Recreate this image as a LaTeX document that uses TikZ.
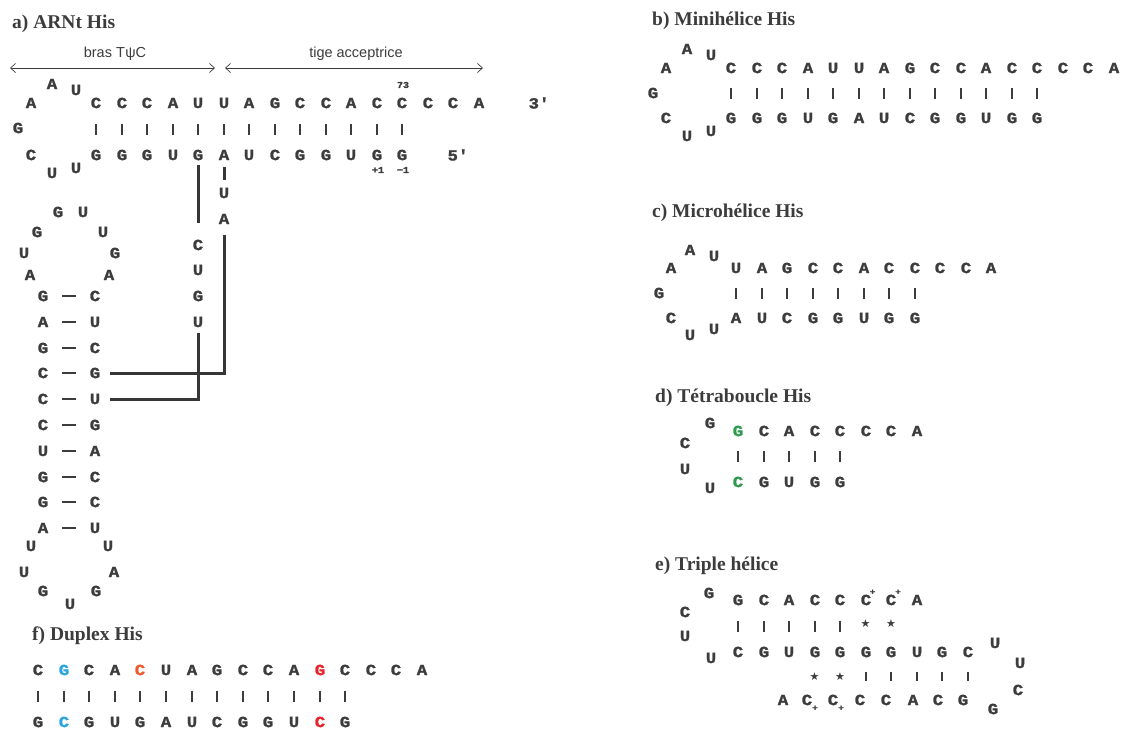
\documentclass[tikz,border=0pt]{standalone}
\usepackage{fontspec}
\setmainfont{Liberation Serif}
\newfontfamily\ntfont{Liberation Mono}[BoldFeatures={FakeBold=1.6,FakeStretch=1.12}]
\newfontfamily\lblfont{Liberation Sans}
\newfontfamily\symfont{DejaVu Sans}
\usetikzlibrary{arrows.meta}
\definecolor{ink}{HTML}{3C3C3C}
\definecolor{nblue}{HTML}{2AA5DF}
\definecolor{nred}{HTML}{E5242B}
\definecolor{norange}{HTML}{EE5A2E}
\definecolor{ngreen}{HTML}{2E9A4E}
\begin{document}
\begin{tikzpicture}[x=1pt,y=-1pt,
  nt/.style={font=\ntfont\bfseries\fontsize{15.5}{15}\selectfont, text=ink, inner sep=0pt},
  tiny/.style={font=\ntfont\bfseries\fontsize{9}{9}\selectfont, text=ink, inner sep=0pt},
  plus/.style={font=\ntfont\bfseries\fontsize{8}{8}\selectfont, text=ink, inner sep=0pt},
  star/.style={font=\symfont\fontsize{11}{11}\selectfont, text=ink, inner sep=0pt},
  ttl/.style={font=\bfseries\fontsize{19.5}{20}\selectfont, text=ink, anchor=base west, inner sep=0pt},
  lbl/.style={font=\lblfont\fontsize{14.5}{15}\selectfont, text=ink, inner sep=0pt},
  bar/.style={draw=ink, line width=2pt},
  pdash/.style={draw=ink, line width=1.2pt, shorten <=19pt, shorten >=19pt},
  heavy/.style={draw=ink!90!black, line width=3pt, line join=miter},
  span/.style={draw=ink, line width=0.7pt, {Straight Barb[length=5pt,width=9pt]}-{Straight Barb[length=5pt,width=9pt]}}
]
\useasboundingbox (0,0) rectangle (1127,731);

% ---------------- a) ARNt His ----------------
\node[ttl] (ta) at (12,28) {a) ARNt His};
\node[lbl] (lbras) at (115,54) {bras T\kern0.5pt ψC};
\node[lbl] (ltige) at (356,54) {tige acceptrice};
\coordinate (s1a) at (10,68); \coordinate (s1b) at (215,68);
\coordinate (s2a) at (225,68); \coordinate (s2b) at (483,68);
\draw[span] (s1a) -- (s1b);
\draw[span] (s2a) -- (s2b);

\foreach \c [count=\i from 0] in {C,C,C,A,U,U,A,G,C,C,A,C,C,C,C,A}
  \node[nt] (at\i) at ({round(96+25.5*\i)},103) {\c};
\foreach \c [count=\i from 0] in {G,G,G,U,G,A,U,C,G,G,U,G,G}
  \node[nt] (ab\i) at ({round(96+25.5*\i)},155) {\c};
\foreach \i in {0,...,12}
  \draw[bar, shorten <=20.5pt, shorten >=20.5pt] (at\i.center) -- (ab\i.center);
\node[tiny] (n73) at (403,85) {73};
\node[tiny] (np1) at (378,170) {+1};
\node[tiny] (nm1) at (403,170) {−1};
\node[nt] (p3) at (539,103) {3'};
\node[nt] (p5) at (458,155) {5'};

\node[nt] (aL1) at (31,103) {A};
\node[nt] (aL2) at (52,84) {A};
\node[nt] (aL3) at (76,90) {U};
\node[nt] (aL4) at (18,128) {G};
\node[nt] (aL5) at (31,155) {C};
\node[nt] (aL6) at (52,173) {U};
\node[nt] (aL7) at (76,168) {U};

% anticodon side column
\node[nt] (xU) at (224,193) {U};
\node[nt] (xA) at (224,219) {A};
\node[nt] (cg1) at (198,245) {C};
\node[nt] (cg2) at (198,270) {U};
\node[nt] (cg3) at (198,296) {G};
\node[nt] (cg4) at (198,322) {U};

% stem
\foreach \l/\r/\y [count=\k] in {G/C/296,A/U/322,G/C/348,C/G/373,C/U/399,C/G/425,U/A/451,G/C/477,G/C/502,A/U/528}{
  \node[nt] (sL\k) at (43,\y) {\l};
  \node[nt] (sR\k) at (95,\y) {\r};
  \draw[pdash] (sL\k.center) -- (sR\k.center);
}
% upper loop
\node[nt] (u1) at (58,212) {G};
\node[nt] (u2) at (83,212) {U};
\node[nt] (u3) at (37,232) {G};
\node[nt] (u4) at (103,232) {U};
\node[nt] (u5) at (24,253) {U};
\node[nt] (u6) at (115,253) {G};
\node[nt] (u7) at (30,275) {A};
\node[nt] (u8) at (109,275) {A};
% lower loop
\node[nt] (w1) at (31,546) {U};
\node[nt] (w2) at (108,546) {U};
\node[nt] (w3) at (24,572) {U};
\node[nt] (w4) at (114,572) {A};
\node[nt] (w5) at (43,591) {G};
\node[nt] (w6) at (96,591) {G};
\node[nt] (w7) at (70,604) {U};

% heavy connectors
\draw[heavy, shorten <=10pt, shorten >=22pt] (ab4.center) -- (cg1.center);
\draw[heavy, shorten <=12pt, shorten >=13pt] (ab5.center) -- (xU.center);
\draw[heavy, shorten <=16pt, shorten >=15pt] (xA.center) |- (sR4.center);
\draw[heavy, shorten <=11pt, shorten >=15pt] (cg4.center) |- (sR5.center);

% ---------------- b) Minihelice His ----------------
\node[ttl] (tb) at (652,25) {b) Minihélice His};
\foreach \c [count=\i from 0] in {C,C,C,A,U,U,A,G,C,C,A,C,C,C,C,A}
  \node[nt] (bt\i) at ({round(731+25.5*\i)},68) {\c};
\foreach \c [count=\i from 0] in {G,G,G,U,G,A,U,C,G,G,U,G,G}
  \node[nt] (bb\i) at ({round(731+25.5*\i)},118) {\c};
\foreach \i in {0,...,12}
  \draw[bar, shorten <=19.5pt, shorten >=19.5pt] (bt\i.center) -- (bb\i.center);
\node[nt] (bL1) at (666,68) {A};
\node[nt] (bL2) at (687,49) {A};
\node[nt] (bL3) at (711,55) {U};
\node[nt] (bL4) at (653,93) {G};
\node[nt] (bL5) at (666,118) {C};
\node[nt] (bL6) at (687,136) {U};
\node[nt] (bL7) at (711,131) {U};

% ---------------- c) Microhelice His ----------------
\node[ttl] (tc) at (652,217) {c) Microhélice His};
\foreach \c [count=\i from 0] in {U,A,G,C,C,A,C,C,C,C,A}
  \node[nt] (ct\i) at ({round(736+25.5*\i)},268) {\c};
\foreach \c [count=\i from 0] in {A,U,C,G,G,U,G,G}
  \node[nt] (cb\i) at ({round(736+25.5*\i)},318) {\c};
\foreach \i in {0,...,7}
  \draw[bar, shorten <=19.5pt, shorten >=19.5pt] (ct\i.center) -- (cb\i.center);
\node[nt] (cL1) at (671,268) {A};
\node[nt] (cL2) at (690,250) {A};
\node[nt] (cL3) at (714,256) {U};
\node[nt] (cL4) at (659,293) {G};
\node[nt] (cL5) at (671,318) {C};
\node[nt] (cL6) at (690,335) {U};
\node[nt] (cL7) at (714,329) {U};

% ---------------- d) Tetraboucle His ----------------
\node[ttl] (td) at (655,402) {d) Tétraboucle His};
\foreach \c [count=\i from 0] in {{\color{ngreen}G},C,A,C,C,C,C,A}
  \node[nt] (dt\i) at ({round(738+25.5*\i)},431) {\c};
\foreach \c [count=\i from 0] in {{\color{ngreen}C},G,U,G,G}
  \node[nt] (db\i) at ({round(738+25.5*\i)},482) {\c};
\foreach \i in {0,...,4}
  \draw[bar, shorten <=20pt, shorten >=20pt] (dt\i.center) -- (db\i.center);
\node[nt] (dL1) at (710,423) {G};
\node[nt] (dL2) at (685,443) {C};
\node[nt] (dL3) at (685,469) {U};
\node[nt] (dL4) at (710,488) {U};

% ---------------- e) Triple helice ----------------
\node[ttl] (te) at (655,570) {e) Triple hélice};
\foreach \c [count=\i from 0] in {G,C,A,C,C,C,C,A}
  \node[nt] (et\i) at ({round(738+25.5*\i)},600) {\c};
\node[plus] (ep1) at ({738+25.5*5+7},592) {+};
\node[plus] (ep2) at ({738+25.5*6+7},592) {+};
\foreach \c [count=\i from 0] in {C,G,U,G,G,G,G,U,G,C}
  \node[nt] (em\i) at ({round(738+25.5*\i)},652) {\c};
\foreach \i in {0,...,4}
  \draw[bar, shorten <=20.5pt, shorten >=20.5pt] (et\i.center) -- (em\i.center);
\node[star] (es1) at ({738+25.5*5},624) {★};
\node[star] (es2) at ({738+25.5*6},624) {★};
\node[star] (es3) at ({738+25.5*3},677) {★};
\node[star] (es4) at ({738+25.5*4},677) {★};
\foreach \c/\x [count=\i from 0] in {A/783,C/807,C/833,C/860,C/886,A/913,C/938,G/963}
  \node[nt] (eb\i) at (\x,700) {\c};
\node[plus] (ebp1) at (815,708) {+};
\node[plus] (ebp2) at (841,708) {+};
\foreach \i in {5,...,9}
  \draw[bar, shorten <=19.5pt, shorten >=19.5pt] (em\i.center) -- ++(0,48);
\node[nt] (eL1) at (709,593) {G};
\node[nt] (eL2) at (685,612) {C};
\node[nt] (eL3) at (685,636) {U};
\node[nt] (eL4) at (711,658) {U};
\node[nt] (eR1) at (995,643) {U};
\node[nt] (eR2) at (1020,663) {U};
\node[nt] (eR3) at (1018,690) {C};
\node[nt] (eR4) at (993,709) {G};

% ---------------- f) Duplex His ----------------
\node[ttl] (tf) at (32,640) {f) Duplex His};
\foreach \c [count=\i from 0] in {C,{\color{nblue}G},C,A,{\color{norange}C},U,A,G,C,C,A,{\color{nred}G},C,C,C,A}
  \node[nt] (ft\i) at ({round(38+25.6*\i)},670) {\c};
\foreach \c [count=\i from 0] in {G,{\color{nblue}C},G,U,G,A,U,C,G,G,U,{\color{nred}C},G}
  \node[nt] (fb\i) at ({round(38+25.6*\i)},722) {\c};
\foreach \i in {0,...,12}
  \draw[bar, shorten <=20.5pt, shorten >=20.5pt] (ft\i.center) -- (fb\i.center);
\end{tikzpicture}
\end{document}
